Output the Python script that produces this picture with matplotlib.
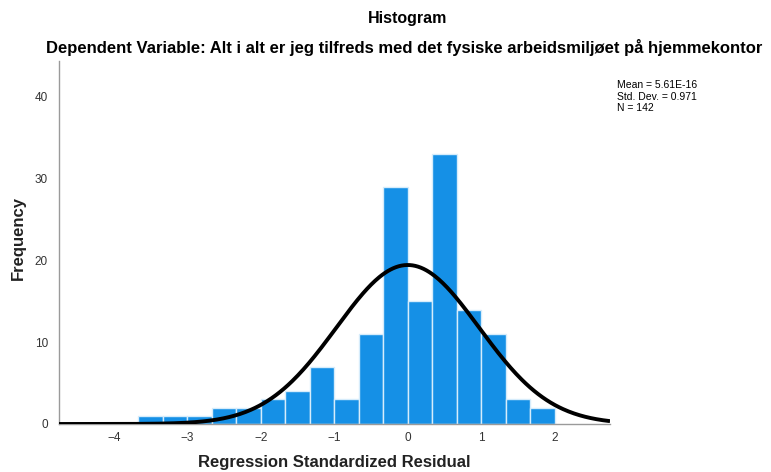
import numpy as np
import matplotlib.pyplot as plt

# --- Datos -------------------------------------------------------------------
bin_edges = np.arange(-11, 7) / 3.0          # -3.667 ... 2.0, ancho 1/3
counts = [1, 1, 1, 2, 2, 3, 4, 7, 3, 11, 29, 15, 33, 14, 11, 3, 2]
mean_val = 5.61e-16
std_val = 0.971
n_obs = 142
x_ticks = [-4, -3, -2, -1, 0, 1, 2]
y_ticks = [0, 10, 20, 30, 40]

title_txt = "Histogram"
subtitle_txt = "Dependent Variable: Alt i alt er jeg tilfreds med det fysiske arbeidsmiljøet på hjemmekontor"
stats_txt = f"Mean = 5.61E-16\nStd. Dev. = {std_val}\nN = {n_obs}"

plt.rcParams['font.family'] = ['Liberation Sans', 'DejaVu Sans']

fig = plt.figure(figsize=(7.71, 4.72), dpi=100)
ax = fig.add_axes([59/771, 1 - 424/472, (610 - 59)/771, (424 - 61)/472])

# Histograma
widths = np.diff(bin_edges)
ax.bar(bin_edges[:-1], counts, width=widths, align='edge',
       color='#1590e6', edgecolor='#d6ecfb', linewidth=1.0, zorder=2)

# Curva normal
xlim = (-4.745, 2.752)
xs = np.linspace(xlim[0], xlim[1], 400)
bw = widths[0]
pdf = n_obs * bw / (std_val * np.sqrt(2 * np.pi)) * np.exp(-0.5 * ((xs - mean_val) / std_val) ** 2)
ax.plot(xs, pdf, color='black', linewidth=2.8, zorder=3, solid_capstyle='butt')

ax.set_xlim(*xlim)
ax.set_ylim(0, 44.4)
ax.set_xticks(x_ticks)
ax.set_xticklabels(['\u22124', '\u22123', '\u22122', '\u22121', '0', '1', '2'])
ax.set_yticks(y_ticks)
ax.tick_params(length=0, labelsize=8.5, labelcolor='#333333')
ax.tick_params(axis='x', pad=6)
ax.tick_params(axis='y', pad=8)
for s in ['top', 'right']:
    ax.spines[s].set_visible(False)
for s in ['left', 'bottom']:
    ax.spines[s].set_color('#9a9a9a')
    ax.spines[s].set_linewidth(1.0)

# Etiquetas de ejes
fig.text(334/771, 1 - 463/472, 'Regression Standardized Residual', ha='center', va='center',
         fontsize=12, fontweight='bold', color='#222222')
fig.text(18/771, 1 - 238/472, 'Frequency', ha='center', va='center', rotation=90,
         fontsize=12, fontweight='bold', color='#222222')

fig.text(408/771, 1 - 19/472, title_txt, ha='center', va='center', fontsize=11.5, fontweight='bold')
fig.text(404/771, 1 - 47/472, subtitle_txt, ha='center', va='center', fontsize=12, fontweight='bold')
fig.text(617/771, 1 - 80/472, stats_txt, ha='left', va='top', fontsize=7.5, linespacing=1.2)

fig.savefig('out.png', dpi=100)
